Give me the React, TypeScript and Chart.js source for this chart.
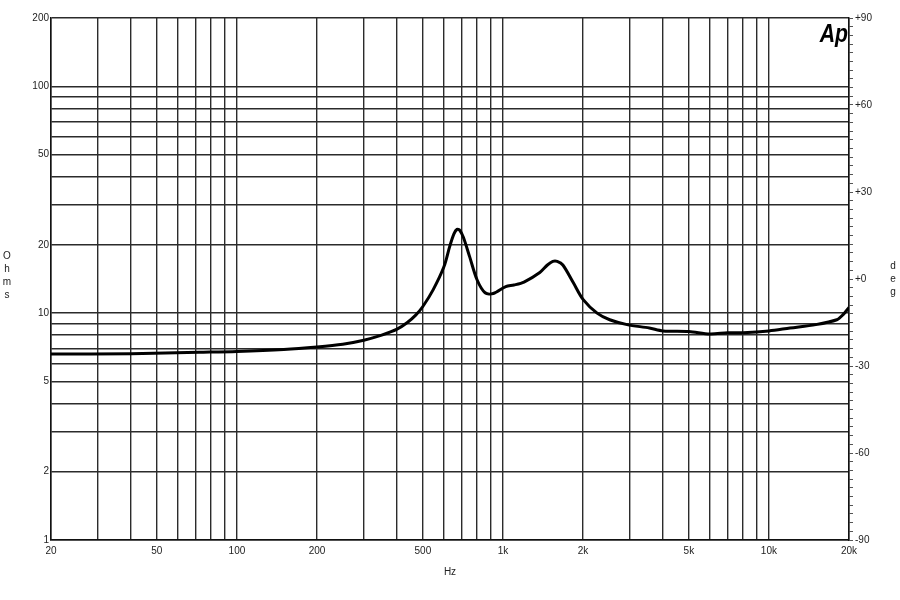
import React, { useEffect, useRef } from "react";
import { Chart, registerables } from "chart.js";

Chart.register(...registerables);

// Impedance curve (frequency in Hz, impedance in Ohms)
const freqHz = [20, 40, 72, 100, 150, 200, 250, 300, 350, 400, 436, 470, 500, 547, 600, 631, 655, 672, 688, 710, 750, 800, 857, 920, 1025, 1100, 1200, 1376, 1470, 1540, 1600, 1680, 1840, 2000, 2260, 2520, 2930, 3550, 4000, 5000, 6000, 7000, 8000, 10000, 12000, 15000, 18000, 19000, 20000];
const impedanceOhms = [6.6, 6.62, 6.72, 6.78, 6.92, 7.1, 7.3, 7.6, 8.0, 8.5, 9.07, 9.8, 10.7, 12.7, 16.0, 19.7, 22.4, 23.4, 23.2, 21.6, 17.7, 14.0, 12.3, 12.2, 13.1, 13.3, 13.7, 15.1, 16.3, 16.9, 16.9, 16.3, 13.6, 11.5, 10.0, 9.35, 8.9, 8.6, 8.35, 8.3, 8.1, 8.2, 8.2, 8.35, 8.6, 8.9, 9.35, 9.85, 10.6];

// Axis ticks
const xGridValues = [20, 30, 40, 50, 60, 70, 80, 90, 100, 200, 300, 400, 500, 600, 700, 800, 900, 1000, 2000, 3000, 4000, 5000, 6000, 7000, 8000, 9000, 10000, 20000];
const xLabelValues = [20, 50, 100, 200, 500, 1000, 2000, 5000, 10000, 20000];
const xLabelTexts = ["20", "50", "100", "200", "500", "1k", "2k", "5k", "10k", "20k"];
const yGridValues = [1, 2, 3, 4, 5, 6, 7, 8, 9, 10, 20, 30, 40, 50, 60, 70, 80, 90, 100, 200];
const yLabelValues = [1, 2, 5, 10, 20, 50, 100, 200];
const degLabelValues = [-90, -60, -30, 0, 30, 60, 90];
const degLabelTexts = ["-90", "-60", "-30", "+0", "+30", "+60", "+90"];

const FONT = "'Liberation Sans', Arial, sans-serif";
const INK = "#222";

const textPlugin = {
  id: "extraText",
  afterDraw(chart: any) {
    const ctx = chart.ctx;
    ctx.save();
    ctx.fillStyle = INK;
    ctx.font = `10px ${FONT}`;
    ctx.textAlign = "center";
    ctx.textBaseline = "middle";
    ["O", "h", "m", "s"].forEach((c, i) => ctx.fillText(c, 7, 256 + i * 13));
    ["d", "e", "g"].forEach((c, i) => ctx.fillText(c, 893, 266 + i * 13));
    ctx.fillText("Hz", 450, 572);
    ctx.fillStyle = "#000";
    ctx.font = `italic bold 25px ${FONT}`;
    ctx.textAlign = "right";
    ctx.textBaseline = "alphabetic";
    ctx.save();
    ctx.translate(848, 42);
    ctx.scale(0.85, 1);
    ctx.fillText("Ap", 0, 0);
    ctx.restore();
    ctx.restore();
  },
};

export default function App() {
  const ref = useRef<HTMLCanvasElement>(null);
  useEffect(() => {
    if (!ref.current) return;
    const chart = new Chart(ref.current, {
      type: "line",
      data: {
        datasets: [
          {
            data: freqHz.map((f, i) => ({ x: f, y: impedanceOhms[i] })),
            borderColor: "#000",
            borderWidth: 3,
            pointRadius: 0,
            tension: 0.3,
            yAxisID: "y",
          },
        ],
      },
      options: {
        animation: false,
        responsive: false,
        layout: { padding: { top: 18, left: 0, right: 0, bottom: 0 } },
        plugins: { legend: { display: false }, tooltip: { enabled: false } },
        scales: {
          x: {
            type: "logarithmic",
            min: 20,
            max: 20000,
            afterBuildTicks: (s: any) => {
              s.ticks = xGridValues.map((v) => ({ value: v }));
            },
            afterFit: (s: any) => {
              s.height = 60;
            },
            grid: { color: "#2b2b2b", lineWidth: 1.4, drawTicks: false },
            border: { color: "#111", width: 1.5 },
            ticks: {
              autoSkip: false,
              maxRotation: 0,
              padding: 5,
              color: INK,
              font: { family: FONT, size: 10 },
              callback: (v: any) => {
                const i = xLabelValues.indexOf(Number(v));
                return i >= 0 ? xLabelTexts[i] : "";
              },
            },
          },
          y: {
            type: "logarithmic",
            position: "left",
            min: 1,
            max: 200,
            afterBuildTicks: (s: any) => {
              s.ticks = yGridValues.map((v) => ({ value: v }));
            },
            afterFit: (s: any) => {
              s.width = 51;
            },
            grid: { color: "#2b2b2b", lineWidth: 1.4, drawTicks: false },
            border: { color: "#111", width: 1.5 },
            ticks: {
              autoSkip: false,
              padding: 2,
              color: INK,
              font: { family: FONT, size: 10 },
              callback: (v: any) => (yLabelValues.includes(Number(v)) ? String(v) : ""),
            },
          },
          deg: {
            type: "linear",
            position: "right",
            min: -90,
            max: 90,
            afterBuildTicks: (s: any) => {
              const t = [];
              for (let v = -90; v <= 90; v += 3) t.push({ value: v });
              s.ticks = t;
            },
            afterFit: (s: any) => {
              s.width = 51;
            },
            grid: { drawOnChartArea: false, drawTicks: true, tickLength: 4, color: "#555", lineWidth: 1 },
            border: { color: "#111", width: 1.5 },
            ticks: {
              autoSkip: false,
              padding: 2,
              color: INK,
              font: { family: FONT, size: 10 },
              callback: (v: any) => {
                const i = degLabelValues.indexOf(Number(v));
                return i >= 0 ? degLabelTexts[i] : "";
              },
            },
          },
        },
      } as any,
      plugins: [textPlugin],
    });
    return () => chart.destroy();
  }, []);
  return (
    <div style={{ position: "absolute", left: 0, top: 0, width: 900, height: 600, background: "#fff" }}>
      <canvas ref={ref} width={900} height={600} />
    </div>
  );
}
